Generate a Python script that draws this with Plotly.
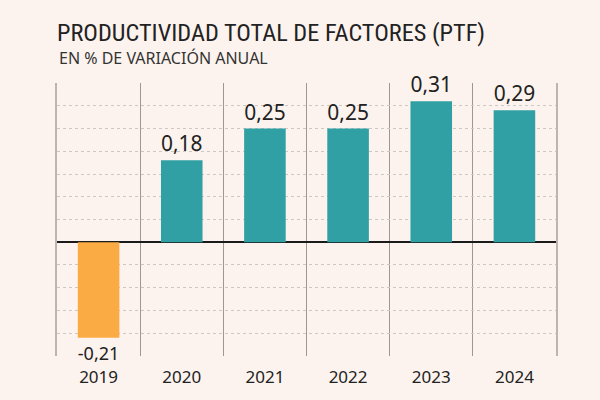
import plotly.graph_objects as go

# datos
years = ['2019', '2020', '2021', '2022', '2023', '2024']
ptf = [-0.21, 0.18, 0.25, 0.25, 0.31, 0.29]
bar_colors = ['#fbab44', '#31a0a4', '#31a0a4', '#31a0a4', '#31a0a4', '#31a0a4']

TITLE = 'PRODUCTIVIDAD TOTAL DE FACTORES (PTF)'
SUBTITLE = 'EN % DE VARIACIÓN ANUAL'
BG = '#fdf3ee'

# etiquetas con coma decimal
labels = [f'{v:.2f}'.replace('.', ',') for v in ptf]

fig = go.Figure()
fig.add_trace(go.Bar(
    x=years, y=ptf,
    marker=dict(color=bar_colors, line=dict(width=0)),
    text=labels, textposition='outside', cliponaxis=False,
    textfont=dict(family='Noto Sans', size=21, color='#222222'),
    width=0.5, hoverinfo='skip',
))

fig.update_layout(
    width=600, height=400,
    paper_bgcolor=BG, plot_bgcolor=BG,
    margin=dict(l=57, r=44, t=83, b=44),
    showlegend=False,
    title=dict(
        text=TITLE, xref='paper', x=0, xanchor='left',
        yref='container', y=0.92, yanchor='middle',
        font=dict(family='Roboto Condensed, Noto Sans Condensed, DejaVu Sans Condensed, Liberation Sans Narrow, Roboto',
                  size=24.3, color='#222222', weight=400),
    ),
    annotations=[dict(
        text=SUBTITLE, xref='paper', yref='paper', x=0, y=1.092,
        xanchor='left', yanchor='middle', showarrow=False,
        font=dict(family='Noto Sans', size=16, color='#333333'),
    )],
)

fig.update_xaxes(
    type='category', tickson='boundaries', showgrid=True,
    gridcolor='#9e9893', gridwidth=1, ticks='', showline=False,
    ticklabelstandoff=9,
    tickfont=dict(family='Noto Sans', size=17, color='#222222'),
)
fig.update_yaxes(
    range=[-0.2501, 0.3501], dtick=0.05, tick0=0,
    showgrid=True, gridcolor='#cdc8c4', griddash='3px,3px', gridwidth=1,
    showticklabels=False, zeroline=True, zerolinecolor='#1a1a1a', zerolinewidth=1.5,
    showline=True, mirror=True, linecolor='#bdb4af', linewidth=2,
)

fig.write_html('out.html', config={'displayModeBar': False},
               post_script="document.body.style.margin='0';document.body.style.background='#fdf3ee';")
